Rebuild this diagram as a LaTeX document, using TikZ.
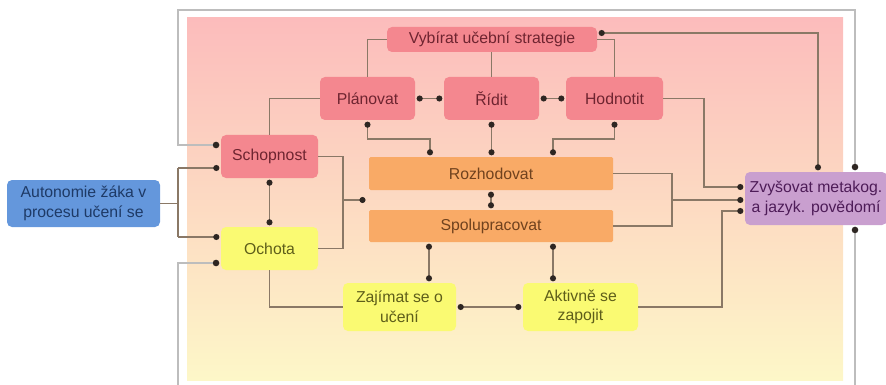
\documentclass[tikz,border=0pt]{standalone}
\usepackage{fontspec}
\setmainfont{Liberation Sans}
\usetikzlibrary{arrows.meta,calc}

\definecolor{bgtop}{HTML}{FCBCBC}
\definecolor{bgmid}{HTML}{FCD8C4}
\definecolor{bgbot}{HTML}{FDF7C8}
\definecolor{framec}{HTML}{BDBDBD}
\definecolor{linec}{HTML}{8A7866}
\definecolor{dotc}{HTML}{2E2622}
\definecolor{pinkf}{HTML}{F4878F}
\definecolor{pinkt}{HTML}{6E2430}
\definecolor{yelf}{HTML}{FAFA72}
\definecolor{yelt}{HTML}{5E5E1A}
\definecolor{orf}{HTML}{F9AA66}
\definecolor{ort}{HTML}{70421E}
\definecolor{bluef}{HTML}{6497DC}
\definecolor{bluet}{HTML}{1E3A66}
\definecolor{purf}{HTML}{C99FCF}
\definecolor{purt}{HTML}{4E1C58}

\begin{document}
\begin{tikzpicture}[x=1pt,y=-1pt,
  box/.style={rounded corners=5pt, inner sep=0pt, align=center,
    font=\fontsize{15.8}{19.5}\selectfont},
  pinkbox/.style={box, fill=pinkf, text=pinkt},
  yelbox/.style={box, fill=yelf, text=yelt},
  orbox/.style={box, rounded corners=1.5pt, fill=orf, text=ort},
  bluebox/.style={box, fill=bluef, text=bluet},
  purbox/.style={box, fill=purf, text=purt},
  conn/.style={draw=linec, line width=1.7pt},
  framel/.style={draw=framec, line width=2.8pt},
  dotend/.style={-{Circle[length=6pt,width=6pt,color=dotc]}, shorten >=1.5pt},
  dotboth/.style={{Circle[length=6pt,width=6pt,color=dotc]}-{Circle[length=6pt,width=6pt,color=dotc]},
    shorten >=1.5pt, shorten <=1.5pt},
  fdotend/.style={-{Circle[length=6.5pt,width=6.5pt,line width=0.2pt,color=dotc]}, shorten >=1.5pt},
  fdotstart/.style={{Circle[length=6.5pt,width=6.5pt,line width=0.2pt,color=dotc]}-, shorten <=1.5pt},
  fdotboth/.style={{Circle[length=6.5pt,width=6.5pt,line width=0.2pt,color=dotc]}-{Circle[length=6.5pt,width=6.5pt,line width=0.2pt,color=dotc]},
    shorten >=1.5pt, shorten <=1.5pt},
]
\useasboundingbox (0,0) rectangle (886,385);

% background panel
\shade[top color=bgtop, middle color=bgmid, bottom color=bgbot]
  (187,18) rectangle (843,380);

% nodes
\node[bluebox, minimum width=153pt, minimum height=47pt] (auto) at (83.5,203.5)
  {Autonomie žáka v\\procesu učení se};
\node[pinkbox, minimum width=97pt, minimum height=43pt] (schop) at (269.5,156.5) {Schopnost};
\node[yelbox, minimum width=97pt, minimum height=43pt] (ochota) at (269.5,248.5) {Ochota};
\node[pinkbox, minimum width=210pt, minimum height=25pt] (vyb) at (492,39.5) {Vybírat učební strategie};
\node[pinkbox, minimum width=95pt, minimum height=43pt] (plan) at (367.5,98.5) {Plánovat};
\node[pinkbox, minimum width=95pt, minimum height=43pt] (ridit) at (491.5,98.5) {Řídit};
\node[pinkbox, minimum width=97pt, minimum height=43pt] (hodn) at (614.5,98.5) {Hodnotit};
\node[orbox, minimum width=244pt, minimum height=33pt] (rozh) at (491,173.5) {Rozhodovat};
\node[orbox, minimum width=244pt, minimum height=32pt] (spol) at (491,226) {Spolupracovat};
\node[yelbox, minimum width=113pt, minimum height=48pt] (zaj) at (399.5,307) {Zajímat se o\\učení};
\node[yelbox, minimum width=115pt, minimum height=48pt] (akt) at (580.5,307) {Aktivně se\\zapojit};
\node[purbox, minimum width=142pt, minimum height=53pt] (zvys) at (816,198.5)
  {Zvyšovat metakog.\\a jazyk. povědomí};

% helper coordinates
\coordinate (fl) at (178,10);
\coordinate (fr) at (855,10);
\coordinate (fs) at (178,145);
\coordinate (fo) at (178,263);
\coordinate (fbl) at (178,385);
\coordinate (fbr) at (855,385);
\coordinate (ja) at (178,168);
\coordinate (jb) at (178,237);
\coordinate (x343) at (343,0);
\coordinate (jc) at (367,200);
\coordinate (m139) at (0,139);
\coordinate (x430) at (430,0);
\coordinate (x553) at (553,0);
\coordinate (x429) at (429,0);
\coordinate (x672) at (672,0);
\coordinate (m200) at (0,200);
\coordinate (x704) at (704,0);
\coordinate (m187) at (0,187);
\coordinate (x722) at (722,0);
\coordinate (m211) at (0,211);
\coordinate (x818) at (818,0);

% outer feedback loop
\draw[framel, fdotboth] (fs -| schop.west) -- (fs) -- (fl) -- (fr) -- (fr |- zvys.north);
\draw[framel, fdotstart] (fr |- zvys.south) -- (fbr);
\draw[framel, fdotend] (fbl) -- (fo) -- (fo -| ochota.west);

% autonomy splits into ability and willingness
\draw[conn] (auto.east) -- (auto.east -| ja);
\draw[conn] (ja) -- (jb);
\draw[conn, dotend] (ja) -- (ja -| schop.west);
\draw[conn, dotend] (jb) -- (jb -| ochota.west);
\draw[conn, dotboth] (schop.south) -- (ochota.north);

% metacognitive row
\draw[conn] (schop.north) |- (plan.west);
\draw[conn] (plan.north) |- (vyb.west);
\draw[conn] (ridit.north) -- (ridit.north |- vyb.south);
\draw[conn] (hodn.north) |- (vyb.east);
\draw[conn, dotboth] (plan.east) -- (ridit.west);
\draw[conn, dotboth] (ridit.east) -- (hodn.west);
\draw[conn, dotboth] ($(vyb.east)+(0,-6.5)$) -| (x818 |- zvys.north);

% links down to deciding
\draw[conn, dotboth] (plan.south) |- (x430 |- m139) -- (x430 |- rozh.north);
\draw[conn, dotboth] (ridit.south) -- (ridit.south |- rozh.north);
\draw[conn, dotboth] (hodn.south) |- (x553 |- m139) -- (x553 |- rozh.north);
\draw[conn, dotboth] (rozh.south) -- (spol.north);

% ability and willingness feed the middle block
\draw[conn] (schop.east) -| (x343 |- ochota.east) -- (ochota.east);
\draw[conn, dotend] (x343 |- jc) -- (jc);

% middle block and evaluation feed awareness
\draw[conn] (rozh.east) -| (x672 |- spol.east) -- (spol.east);
\draw[conn, dotend] (x672 |- m200) -- (m200 -| zvys.west);
\draw[conn, dotend] (hodn.east) -| (x704 |- m187) -- (m187 -| zvys.west);
\draw[conn, dotend] (akt.east) -| (x722 |- m211) -- (m211 -| zvys.west);

% bottom row
\draw[conn, dotboth] (x429 |- spol.south) -- (x429 |- zaj.north);
\draw[conn, dotboth] (x553 |- spol.south) -- (x553 |- akt.north);
\draw[conn] (ochota.south) |- (zaj.west);
\draw[conn, dotboth] (zaj.east) -- (akt.west);
\end{tikzpicture}
\end{document}
